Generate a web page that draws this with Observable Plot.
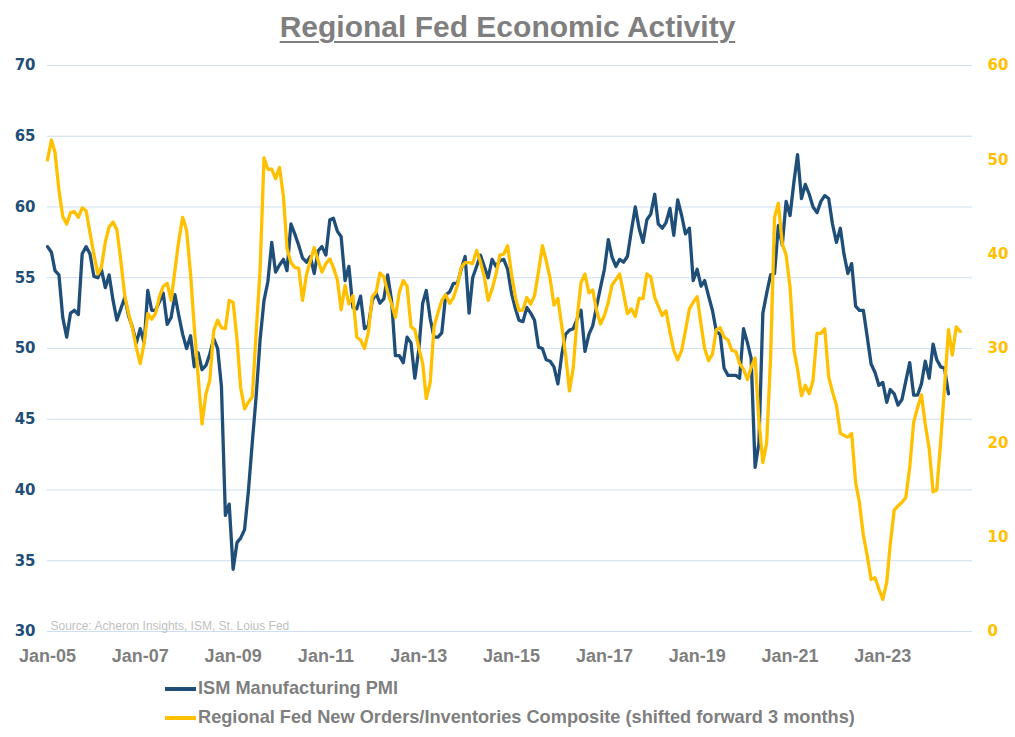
<!DOCTYPE html>
<html>
<head>
<meta charset="utf-8">
<script src="https://cdn.jsdelivr.net/npm/d3@7"></script>
<script src="https://cdn.jsdelivr.net/npm/@observablehq/plot@0.6"></script>
<style>
  html, body { margin: 0; padding: 0; background: #ffffff; }
  #wrap { position: relative; width: 1015px; height: 737px; overflow: hidden; background: #fff; }
  #title { position: absolute; left: 0; width: 1015px; top: 12px; text-align: center;
    font-family: "Liberation Sans", Arial, sans-serif; font-weight: bold; font-size: 30px; line-height: 30px;
    color: #7f7f7f; }
  #title span { text-decoration: underline; text-decoration-thickness: 2px; text-underline-offset: 4px; }
  #chart { position: absolute; left: 0; top: 50px; }
  #legend { position: absolute; left: 165px; top: 674px; font-family: "Liberation Sans", Arial, sans-serif;
    font-weight: bold; font-size: 18.2px; color: #7f7f7f; }
  .row { display: flex; align-items: center; height: 29px; white-space: nowrap; }
  .sw { width: 31px; height: 4px; margin-right: 2px; }
</style>
</head>
<body>
<div id="wrap">
  <div id="title"><span>Regional Fed Economic Activity</span></div>
  <div id="chart"></div>
  <div id="legend"></div>
</div>
<script>
// ISM Manufacturing PMI, monthly from Jan 2005 (left axis)
const ismValues = [
  57.2,56.8,55.5,55.2,52.2,50.8,52.5,52.7,52.4,56.7,57.2,56.7, // 2005
  55.1,55.0,55.6,54.3,55.2,53.4,52.0,52.8,53.6,52.3,51.5,50.4, // 2006
  51.4,50.4,54.1,52.7,52.7,53.3,53.9,51.7,52.2,53.8,52.3,51.0, // 2007
  50.0,50.9,48.7,49.7,48.5,48.8,49.6,50.7,50.0,47.3,38.2,39.0, // 2008
  34.4,36.3,36.6,37.2,39.9,43.4,46.6,50.6,53.4,54.7,57.5,55.4, // 2009
  55.9,56.3,55.5,58.8,58.1,57.3,56.4,56.1,56.5,55.3,56.9,57.2, // 2010
  56.6,59.1,59.2,58.3,57.9,54.8,55.8,52.9,52.8,53.7,51.4,51.6, // 2011
  53.4,53.9,53.2,53.5,55.2,53.4,49.5,49.5,49.0,50.8,50.4,47.9, // 2012
  49.9,53.2,54.1,52.1,50.8,50.8,51.1,53.8,54.0,54.6,54.6,55.6, // 2013
  56.5,52.5,55.0,55.8,56.6,55.8,55.0,56.3,55.8,56.2,56.3,55.6, // 2014
  53.9,52.8,52.0,51.9,52.9,52.5,52.0,50.1,50.0,49.2,49.1,48.7, // 2015
  47.5,49.6,51.0,51.3,51.4,52.1,52.7,49.8,51.0,51.6,53.0,54.3, // 2016
  55.6,57.7,56.5,55.8,56.3,56.1,56.5,58.3,60.0,58.5,57.5,59.1, // 2017
  59.5,60.9,58.8,58.5,58.9,59.9,58.0,60.5,59.4,58.1,58.5,54.8, // 2018
  55.6,54.4,54.8,53.7,52.7,51.2,51.0,48.6,48.1,48.1,48.1,47.9, // 2019
  51.4,50.4,49.3,41.6,43.3,52.5,53.9,55.2,55.3,58.7,57.3,60.4, // 2020
  59.4,61.8,63.7,60.6,61.6,60.9,60.0,59.6,60.4,60.8,60.6,58.8, // 2021
  57.5,58.5,56.7,55.3,56.0,53.0,52.7,52.7,50.8,48.9,48.3,47.4, // 2022
  47.6,46.2,47.1,46.8,46.0,46.4,47.7,49.0,46.7,46.7,47.5,49.1, // 2023
  47.9,50.3,49.2,48.7,48.6,46.8                                 // 2024
];

// Regional Fed New Orders/Inventories Composite, shifted forward 3 months,
// monthly from Jan 2005 (right axis)
const fedValues = [
  50.0,52.1,50.8,46.8,44.0,43.2,44.4,44.5,43.9,44.9,44.6,42.3, // 2005
  40.0,37.9,38.6,41.3,42.9,43.4,42.6,39.3,35.6,33.7,32.1,30.1, // 2006
  28.4,30.6,33.7,33.1,33.7,35.5,36.6,36.9,35.1,38.3,41.5,43.9, // 2007
  42.5,37.9,32.3,27.0,22.0,25.2,26.6,31.9,33.0,32.2,32.1,35.1, // 2008
  34.9,30.9,25.9,23.6,24.3,24.9,31.6,38.3,50.2,49.0,49.0,48.0, // 2009
  49.2,46.1,40.6,39.1,38.6,38.5,35.1,37.8,39.3,40.7,39.3,38.1, // 2010
  39.0,39.5,38.6,37.3,34.1,36.7,34.7,35.6,31.2,30.9,30.0,31.7, // 2011
  35.5,36.0,38.0,37.6,36.0,34.7,33.3,36.0,37.2,36.6,32.3,32.0, // 2012
  30.1,28.4,24.7,26.4,32.3,33.8,35.1,35.7,34.8,35.4,36.7,38.6, // 2013
  39.1,39.1,39.0,40.4,39.2,37.6,35.1,36.3,37.9,39.9,40.0,40.9, // 2014
  37.9,35.4,34.0,34.1,35.4,34.7,35.6,38.1,40.9,39.3,37.4,34.6, // 2015
  35.3,32.3,29.4,25.5,28.0,33.3,37.0,37.9,35.9,36.2,34.0,32.6, // 2016
  33.5,34.9,36.7,37.3,37.9,35.8,33.7,34.2,33.4,35.3,35.3,37.9, // 2017
  37.6,35.4,34.5,33.5,34.0,31.7,29.8,28.8,29.8,31.9,34.2,34.9, // 2018
  35.5,32.5,30.0,28.7,29.4,32.0,32.2,31.2,30.9,29.8,29.7,28.4, // 2019
  27.8,26.7,28.0,29.0,22.4,17.9,20.0,29.1,43.9,45.4,41.1,39.9, // 2020
  36.5,29.8,27.8,25.0,26.1,25.2,26.6,31.6,31.6,32.1,27.0,25.4, // 2021
  24.0,21.0,20.8,20.6,21.0,15.8,13.7,10.2, 8.0, 5.5, 5.7, 4.5, // 2022
   3.4, 5.2, 9.3,12.9,13.3,13.7,14.2,17.4,22.2,23.7,25.1,22.0, // 2023
  19.4,14.8,15.0,20.2,25.9,32.0,29.3,32.3,31.8                  // 2024
];

const leftTicks = [30, 35, 40, 45, 50, 55, 60, 65, 70];
const rightTicks = [0, 10, 20, 30, 40, 50, 60];
const xTickYears = [2005, 2007, 2009, 2011, 2013, 2015, 2017, 2019, 2021, 2023];
const seriesNames = ["ISM Manufacturing PMI", "Regional Fed New Orders/Inventories Composite (shifted forward 3 months)"];
const seriesColors = ["#1f4e79", "#ffc000"];
const sourceText = "Source: Acheron Insights, ISM, St. Loius Fed";

// left axis spans 30..70, right axis spans 0..60
const toLeft = r => 30 + (r - 0) * (70 - 30) / (60 - 0);
const toRight = v => (v - 30) * (60 - 0) / (70 - 30);

const ismData = ismValues.map((v, i) => ({date: new Date(2005, i, 1), value: v}));
const fedData = fedValues.map((r, i) => ({date: new Date(2005, i, 1), value: toLeft(r)}));

const tickFont = "'DejaVu Sans', Verdana, sans-serif";
const textFont = "'Liberation Sans', Arial, sans-serif";

const chart = Plot.plot({
  width: 1015,
  height: 630,
  marginLeft: 47,
  marginRight: 43,
  marginTop: 15,
  marginBottom: 49,
  style: {background: "transparent", fontFamily: textFont},
  x: {type: "time", domain: [new Date(2005, 0, 1), new Date(2024, 11, 7)]},
  y: {domain: [30, 70]},
  marks: [
    Plot.ruleY(leftTicks, {stroke: "#cddff0", strokeWidth: 1}),
    Plot.text([sourceText], {frameAnchor: "bottom-left", dx: 3, dy: -2, fill: "#bfbfbf", fontSize: 12, fontFamily: textFont}),
    Plot.line(ismData, {x: "date", y: "value", stroke: seriesColors[0], strokeWidth: 3.3, strokeLinejoin: "round"}),
    Plot.line(fedData, {x: "date", y: "value", stroke: seriesColors[1], strokeWidth: 3.3, strokeLinejoin: "round"}),
    Plot.axisX({
      ticks: xTickYears.map(y => new Date(y, 0, 1)),
      tickFormat: d => "Jan-" + String(d.getFullYear()).slice(2),
      tickSize: 0, tickPadding: 18, label: null,
      color: "#7f7f7f", fontSize: 18, fontWeight: "bold", fontFamily: textFont
    }),
    Plot.axisY({
      anchor: "left", ticks: leftTicks, tickFormat: d => String(d),
      tickSize: 0, tickPadding: 12, label: null,
      color: seriesColors[0], fontSize: 15, fontWeight: "bold", fontFamily: tickFont
    }),
    Plot.axisY({
      anchor: "right", ticks: rightTicks.map(toLeft), tickFormat: d => String(Math.round(toRight(d))),
      tickSize: 0, tickPadding: 15, label: null,
      color: seriesColors[1], fontSize: 15, fontWeight: "bold", fontFamily: tickFont
    })
  ]
});
document.getElementById("chart").appendChild(chart);

const legend = document.getElementById("legend");
seriesNames.forEach((name, i) => {
  const row = document.createElement("div");
  row.className = "row";
  const sw = document.createElement("div");
  sw.className = "sw";
  sw.style.background = seriesColors[i];
  const label = document.createElement("span");
  label.textContent = name;
  row.appendChild(sw);
  row.appendChild(label);
  legend.appendChild(row);
});
</script>
</body>
</html>
